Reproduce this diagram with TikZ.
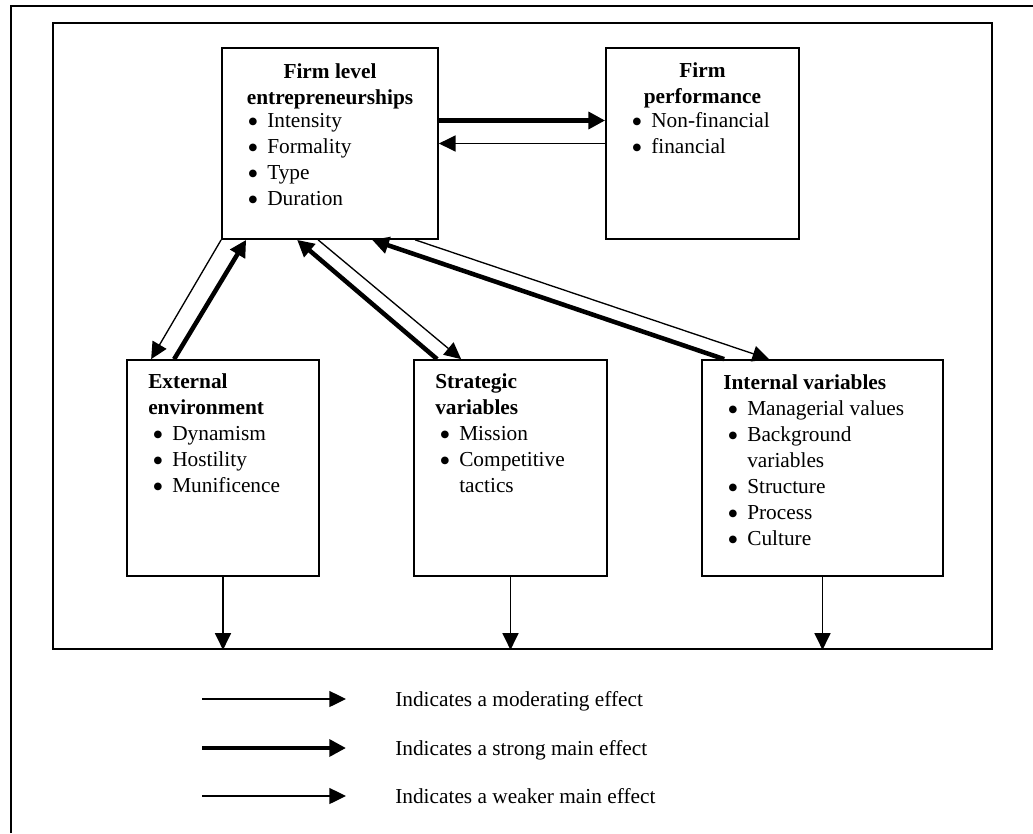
\documentclass[tikz,border=0pt]{standalone}
\usepackage{fontspec}
\setmainfont{Liberation Serif}
\usetikzlibrary{arrows.meta}
\newcommand{\myunit}{0.75pt}
\newcommand{\bul}{\hspace*{3pt}\makebox[15pt][l]{\raisebox{-0.26em}{\scalebox{1.5}{\textbullet}}}}
\newcommand{\cont}{\hspace*{18pt}}
\tikzset{
  varbox/.style={draw, line width=1.3pt, inner sep=0pt},
  txt/.style={inner sep=0pt, font=\fontsize{16}{19.5}\selectfont},
  ttl/.style={inner sep=0pt, font=\fontsize{16}{19.5}\selectfont\bfseries},
  moderating/.style={line width=1pt, -{Triangle[length=12.5pt, width=12pt]}},
  strong/.style={line width=3.4pt, -{Triangle[length=12.5pt, width=12.5pt]}},
  weaker/.style={moderating}
}

\begin{document}
\begin{tikzpicture}[x=\myunit, y=-\myunit]
  \useasboundingbox (0,0) rectangle (1033,833);

  % Frames
  \draw[line width=1.3pt] (11,833) -- (11,6) -- (1033,6);
  \node[varbox, minimum width=939*\myunit, minimum height=626*\myunit] (frame) at (522.5,336) {};

  % Boxes
  \node[varbox, minimum width=216*\myunit, minimum height=191*\myunit] (fl) at (330,143.5) {};
  \node[varbox, minimum width=193*\myunit, minimum height=191*\myunit] (fp) at (702.5,143.5) {};
  \node[varbox, minimum width=192*\myunit, minimum height=216*\myunit] (ee) at (223,468) {};
  \node[varbox, minimum width=193*\myunit, minimum height=216*\myunit] (sv) at (510.5,468) {};
  \node[varbox, minimum width=241*\myunit, minimum height=216*\myunit] (iv) at (822.5,468) {};

  % Texts
  \node[ttl, anchor=base] (flT) at (330,78)
    {\begin{tabular}[t]{@{}c@{}}Firm level\\ entrepreneurships\end{tabular}};
  \node[txt, anchor=base west] (flL) at (243,127)
    {\begin{tabular}[t]{@{}l@{}}\bul Intensity\\ \bul Formality\\ \bul Type\\ \bul Duration\end{tabular}};
  \node[ttl, anchor=base] (fpT) at (702.5,77)
    {\begin{tabular}[t]{@{}c@{}}Firm\\ performance\end{tabular}};
  \node[txt, anchor=base west] (fpL) at (627,127)
    {\begin{tabular}[t]{@{}l@{}}\bul Non-financial\\ \bul financial\end{tabular}};
  \node[txt, anchor=base west] (eeL) at (148,388)
    {\begin{tabular}[t]{@{}l@{}}\textbf{External}\\ \textbf{environment}\\ \bul Dynamism\\ \bul Hostility\\ \bul Munificence\end{tabular}};
  \node[txt, anchor=base west] (svL) at (435,388)
    {\begin{tabular}[t]{@{}l@{}}\textbf{Strategic}\\ \textbf{variables}\\ \bul Mission\\ \bul Competitive\\ \cont tactics\end{tabular}};
  \node[txt, anchor=base west] (ivL) at (723,389)
    {\begin{tabular}[t]{@{}l@{}}\textbf{Internal variables}\\ \bul Managerial values\\ \bul Background\\ \cont variables\\ \bul Structure\\ \bul Process\\ \bul Culture\end{tabular}};

  % Effects
  \draw[strong] ([shift={(0,-23)}]fl.east) -- ([shift={(0,-23)}]fp.west);
  \draw[weaker] (fp.west) -- (fl.east);
  \draw[weaker] (fl.south west) -- ([shift={(25,0)}]ee.north west);
  \draw[strong] ([shift={(48,0)}]ee.north west) -- ([shift={(25,0)}]fl.south west);
  \draw[strong] ([shift={(24,0)}]sv.north west) -- ([shift={(76,0)}]fl.south west);
  \draw[weaker] ([shift={(97,0)}]fl.south west) -- ([shift={(48,0)}]sv.north west);
  \draw[strong] ([shift={(23,0)}]iv.north west) -- ([shift={(151,0)}]fl.south west);
  \draw[weaker] ([shift={(194,0)}]fl.south west) -- ([shift={(68,0)}]iv.north west);
  \draw[moderating] (ee.south) -- (ee.south |- frame.south);
  \draw[moderating] (sv.south) -- (sv.south |- frame.south);
  \draw[moderating] (iv.south) -- (iv.south |- frame.south);

  % Legend
  \coordinate (m1) at (202,699);
  \coordinate (m2) at (346,699);
  \coordinate (s1) at (202,748);
  \coordinate (s2) at (346,748);
  \coordinate (w1) at (202,796);
  \coordinate (w2) at (346,796);
  \draw[moderating] (m1) -- (m2);
  \draw[strong] (s1) -- (s2);
  \draw[weaker] (w1) -- (w2);
  \node[txt, anchor=base west] (mT) at (395,706) {Indicates a moderating effect};
  \node[txt, anchor=base west] (sT) at (395,755) {Indicates a strong main effect};
  \node[txt, anchor=base west] (wT) at (395,803) {Indicates a weaker main effect};
\end{tikzpicture}
\end{document}
